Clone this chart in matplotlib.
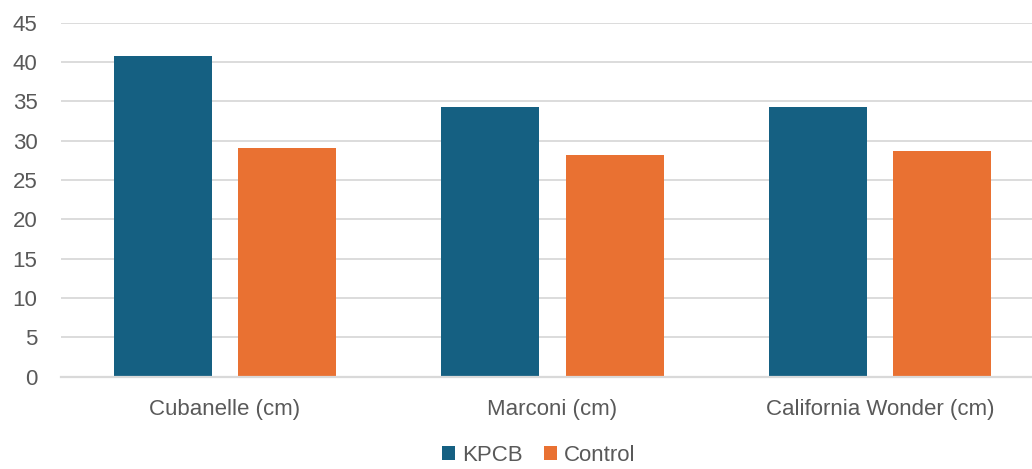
import matplotlib.pyplot as plt
import numpy as np

categories = ["Cubanelle (cm)", "Marconi (cm)", "California Wonder (cm)"]
kpcb_values = [40.7, 34.2, 34.2]
control_values = [29.1, 28.1, 28.7]
y_ticks = [0, 5, 10, 15, 20, 25, 30, 35, 40, 45]

KPCB_COLOR = "#156082"
CONTROL_COLOR = "#E97132"
TEXT_COLOR = "#595959"
GRID_COLOR = "#d9d9d9"


def main() -> None:
    plt.rcParams["font.family"] = ["Liberation Sans", "DejaVu Sans"]

    fig = plt.figure(figsize=(10.32, 4.69), dpi=100)
    # plot area runs a little past the right edge, like the source
    ax = fig.add_axes([0.0591, 0.197, 0.9525, 0.755])

    x = np.arange(len(categories))
    bar_width = 0.299
    offset = 0.19

    ax.bar(x - offset, kpcb_values, bar_width, color=KPCB_COLOR, label="KPCB", zorder=3)
    ax.bar(x + offset, control_values, bar_width, color=CONTROL_COLOR, label="Control", zorder=3)

    ax.set_xlim(-0.5, len(categories) - 0.5)
    ax.set_ylim(0, 45)
    ax.set_yticks(y_ticks)
    ax.set_xticks(x)
    ax.set_xticklabels(categories)

    ax.yaxis.grid(True, color=GRID_COLOR, linewidth=1.3, zorder=0)
    ax.set_axisbelow(True)
    for side in ["top", "right", "left"]:
        ax.spines[side].set_visible(False)
    ax.spines["bottom"].set_color(GRID_COLOR)
    ax.spines["bottom"].set_linewidth(1.6)
    ax.spines["bottom"].set_zorder(4)

    ax.tick_params(axis="both", length=0, labelsize=16, colors=TEXT_COLOR)
    ax.tick_params(axis="x", pad=16)
    ax.tick_params(axis="y", pad=17)

    fig.legend(
        loc="lower center",
        bbox_to_anchor=(0.522, -0.027),
        ncol=2,
        frameon=False,
        fontsize=16,
        labelcolor=TEXT_COLOR,
        handlelength=0.6,
        handleheight=0.6,
        handletextpad=0.3,
        columnspacing=0.95,
        borderpad=0.2,
    )

    fig.savefig("out.png", dpi=100)
    plt.close(fig)


if __name__ == "__main__":
    main()
